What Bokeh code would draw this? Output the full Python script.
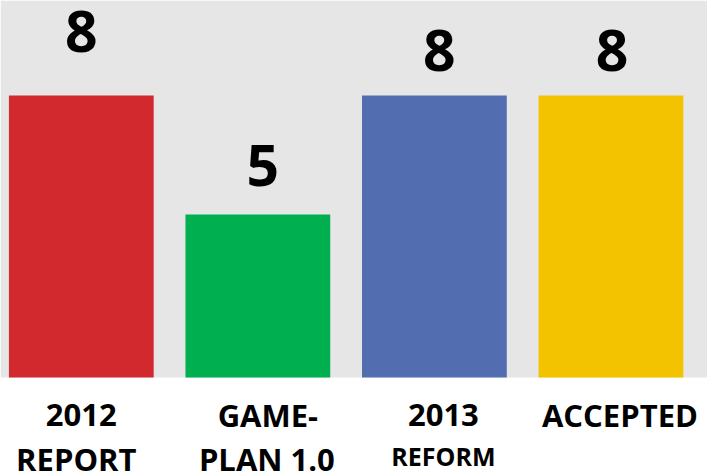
from bokeh.plotting import figure
from bokeh.models import Range1d, ColumnDataSource, BoxAnnotation
from bokeh.core.properties import value
from bokeh.embed import file_html
from bokeh.resources import INLINE

# ---- data ----
categories = ["2012 REPORT", "GAME-PLAN 1.0", "2013 REFORM", "ACCEPTED"]
values = [8, 5, 8, 8]
label_line1 = ["2012", "GAME-", "2013", "ACCEPTED"]
label_line2 = ["REPORT", "PLAN 1.0", "REFORM", ""]
colors = ["#D2292E", "#00AF50", "#526EB1", "#F4C300"]

W, H = 707, 472
PLOT_BOTTOM_PX = 377          # where the grey plot area ends
base = 0.891                  # value at the bottom of the grey area
top_val = 10.395              # value at the top of the picture
px_y = PLOT_BOTTOM_PX / (top_val - base)
y0 = base - (H - PLOT_BOTTOM_PX) / px_y
x0, x1 = -0.4577, 3.5469
px_x = W / (x1 - x0)

p = figure(width=W, height=H, output_backend="svg", toolbar_location=None,
           x_range=Range1d(x0, x1), y_range=Range1d(y0, top_val),
           x_axis_location=None, y_axis_location=None,
           min_border_left=0, min_border_right=0, min_border_top=0,
           min_border_bottom=0)
p.background_fill_color = "white"
p.border_fill_color = "white"
p.outline_line_color = None
p.grid.visible = False

p.add_layout(BoxAnnotation(bottom=base, fill_color="#E6E6E6", fill_alpha=1.0,
                           line_color=None, level="underlay"))

xs = list(range(len(categories)))
p.vbar(x=xs, top=values, bottom=base, width=0.82, fill_color=colors, line_color=None)

FONT = value("Open Sans")
SHIFT_EM = 0.386  # render correction for the text baseline, in em

def ypx(py, size):
    return top_val - (py - SHIFT_EM * size) / px_y

# value labels (screen-px offsets converted to data units)
val_dx = [0, 5, 5, 1]
val_dy = [42, 27, 23, 23]
vsrc = ColumnDataSource(dict(
    x=[i + d / px_x for i, d in zip(xs, val_dx)],
    y=[v + (d + SHIFT_EM * 57) / px_y for v, d in zip(values, val_dy)],
    t=[str(v) for v in values]))
p.text(x="x", y="y", text="t", source=vsrc, text_font=FONT,
       text_font_style="bold", text_font_size="57px", text_align="center",
       text_baseline="alphabetic", text_color="black")

# category labels below the grey area
cat_dx = [0, 10, 9, 9]
cat_dx2 = [-5, 9, 9, 9]
cx = [i + d / px_x for i, d in zip(xs, cat_dx)]
cx2 = [i + d / px_x for i, d in zip(xs, cat_dx2)]
s1 = ColumnDataSource(dict(x=cx, y=[ypx(426, 31)] * 4, t=label_line1))
p.text(x="x", y="y", text="t", source=s1, text_font=FONT, text_font_style="bold",
       text_font_size="31px", text_align="center", text_baseline="alphabetic",
       text_color="black")
s2 = ColumnDataSource(dict(x=cx2[:2], y=[ypx(470, 31)] * 2, t=label_line2[:2]))
p.text(x="x", y="y", text="t", source=s2, text_font=FONT, text_font_style="bold",
       text_font_size="31px", text_align="center", text_baseline="alphabetic",
       text_color="black")
s3 = ColumnDataSource(dict(x=[cx2[2]], y=[ypx(465, 25)], t=[label_line2[2]]))
p.text(x="x", y="y", text="t", source=s3, text_font=FONT, text_font_style="bold",
       text_font_size="25px", text_align="center", text_baseline="alphabetic",
       text_color="black")

html = file_html(p, INLINE)
html = html.replace("<body>", '<body style="margin:0;">', 1)
open("out.html", "w").write(html)
